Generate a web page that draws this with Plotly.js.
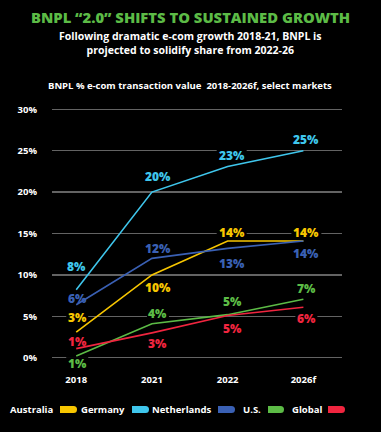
<!DOCTYPE html>
<html>
<head>
<meta charset="utf-8">
<script src="https://cdn.plot.ly/plotly-3.0.1.min.js"></script>
<style>
html,body{margin:0;padding:0;background:#000;}
#chart{width:381px;height:432px;}
</style>
</head>
<body>
<div id="chart"></div>
<script>
// ---- data ----
const years = ["2018", "2021", "2022", "2026f"];
const seriesNames = ["Australia", "Germany", "Netherlands", "U.S.", "Global"];
const australia = [3.1, 10.0, 14.1, 14.1];
const germany = [8.2, 20.0, 23.1, 25.0];
const netherlands = [6.4, 12.0, 13.2, 14.1];
const us = [0.2, 4.1, 5.2, 7.05];
const global = [1.1, 3.0, 5.1, 6.1];
const australiaLabels = ["3%", "10%", "14%", "14%"];
const germanyLabels = ["8%", "20%", "23%", "25%"];
const netherlandsLabels = ["6%", "12%", "13%", "14%"];
const usLabels = ["1%", "4%", "5%", "7%"];
const globalLabels = ["1%", "3%", "5%", "6%"];
const yTickVals = [0, 5, 10, 15, 20, 25, 30];
const yTickText = ["0%", "5%", "10%", "15%", "20%", "25%", "30%"];

// ---- styles ----
const colors = ["#f7c600", "#3fc6ec", "#3a60b4", "#5cbb46", "#f0253f"];
const values = [australia, germany, netherlands, us, global];
const labels = [australiaLabels, germanyLabels, netherlandsLabels, usLabels, globalLabels];
// label offsets [xshift, yshift] in pixels, per series per point
const offsets = [
  [[1, 15], [6, -13], [4, 8], [3, 8]],
  [[0, 23], [6, 16], [4, 11], [3, 11]],
  [[1, 6], [6, 10], [4, -15], [3, -13]],
  [[1, -7], [6, 10], [5, 13], [3, 11]],
  [[1, 7], [6, -11], [5, -13], [3, -11]]
];
const FONT = "Open Sans, DejaVu Sans, sans-serif";

const L = 52, R = 39, T = 101, B = 66.4;
const W = 381 - L - R, H = 432 - T - B;
const px = x => (x - L) / W;
const py = y => (432 - B - y) / H;

const traces = values.map((v, i) => ({
  x: years, y: v, type: "scatter", mode: "lines", name: seriesNames[i],
  line: {color: colors[i], width: 1.6}, showlegend: false, hoverinfo: "skip"
}));

const annotations = [];
const shapes = [];
values.forEach((v, i) => {
  v.forEach((val, j) => {
    const sx = offsets[i][j][0], sy = offsets[i][j][1];
    annotations.push({
      x: j, y: val, xref: "x", yref: "y", text: labels[i][j], showarrow: false,
      xanchor: "center", yanchor: "middle", xshift: sx, yshift: sy,
      font: {family: FONT, size: 12, color: colors[i], weight: 800}
    });
    // black mask between gridlines and traces so gridlines break around label
    const hw = labels[i][j].length * 4 + 3;
    shapes.push({type: "rect", layer: "between", xref: "x", yref: "y",
      xsizemode: "pixel", ysizemode: "pixel", xanchor: j, yanchor: val,
      x0: sx - hw, x1: sx + hw, y0: sy - 6, y1: sy + 6,
      fillcolor: "#000", line: {width: 0}});
  });
});

function paperText(x, y, text, size, color, weight, xanchor) {
  annotations.push({xref: "paper", yref: "paper", x: px(x), y: py(y), text: text, showarrow: false,
    xanchor: xanchor || "center", yanchor: "middle",
    font: {family: FONT, size: size, color: color, weight: weight}});
}
// titles
paperText(190, 17, "BNPL “2.0” SHIFTS TO SUSTAINED GROWTH", 14.8, "#5cbb46", 800);
paperText(190, 43, "Following dramatic e-com growth 2018-21, BNPL is<br>projected to solidify share from 2022-26", 10.5, "#fff", 700);
paperText(190, 86, "BNPL % e-com transaction value  2018-2026f, select markets", 9.5, "#fff", 700);

// legend
const legendTextRight = [55, 127, 214, 263, 324];
const swatch = [[60, 77], [132, 149], [218, 235], [268, 284], [328, 345]];
seriesNames.forEach((n, i) => {
  paperText(legendTextRight[i], 409, n, 9.5, "#fff", 700, "right");
  const x0 = swatch[i][0], x1 = swatch[i][1], y0 = 405.5, y1 = 412.5, r = 3.5;
  const path = `M ${px(x0)} ${py(y0)} L ${px(x1 - r)} ${py(y0)} Q ${px(x1)} ${py(y0)} ${px(x1)} ${py((y0+y1)/2)} Q ${px(x1)} ${py(y1)} ${px(x1 - r)} ${py(y1)} L ${px(x0)} ${py(y1)} Z`;
  shapes.push({type: "path", xref: "paper", yref: "paper", path: path, fillcolor: colors[i], line: {width: 0}});
});

const layout = {
  width: 381, height: 432,
  margin: {l: L, r: R, t: T, b: B},
  paper_bgcolor: "#000", plot_bgcolor: "#000",
  xaxis: {type: "category", range: [-0.32, 3.51], showgrid: false, zeroline: false, showline: false,
    tickfont: {family: FONT, size: 9.5, color: "#fff", weight: 700}, ticks: "", ticklabelstandoff: 6},
  yaxis: {range: [-1, 31], tickvals: yTickVals, ticktext: yTickText, showgrid: true, gridcolor: "#636363", gridwidth: 1.5,
    zeroline: false, showline: false, ticks: "", ticklabelstandoff: 14,
    tickfont: {family: FONT, size: 9.5, color: "#fff", weight: 700}},
  annotations: annotations, shapes: shapes, showlegend: false
};

Plotly.newPlot("chart", traces, layout, {staticPlot: true, displayModeBar: false});
</script>
</body>
</html>
